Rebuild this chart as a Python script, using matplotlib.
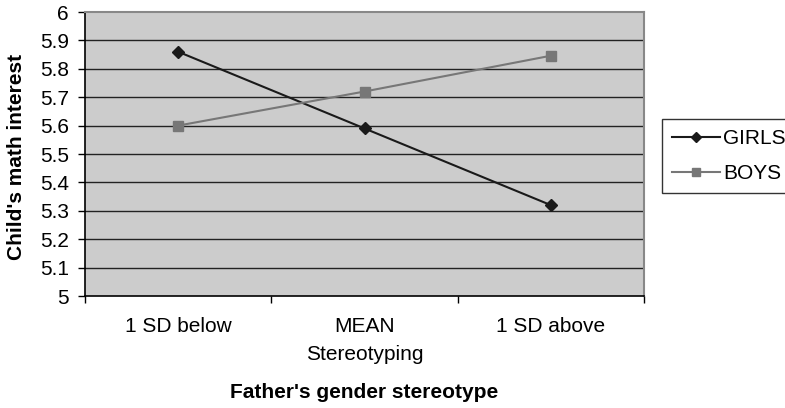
import matplotlib.pyplot as plt
from matplotlib.ticker import FixedLocator, FuncFormatter

plt.rcParams['font.family'] = ['Liberation Sans', 'DejaVu Sans']

# data
categories = ["1 SD below", "MEAN", "1 SD above"]
girls = [5.86, 5.59, 5.32]
boys = [5.60, 5.72, 5.846]
y_ticks = [5.0, 5.1, 5.2, 5.3, 5.4, 5.5, 5.6, 5.7, 5.8, 5.9, 6.0]

fig = plt.figure(figsize=(7.85, 4.08), dpi=100)
ax = fig.add_axes([85/785, 1 - 296/408, 559/785, 284/408])
ax.set_facecolor("#cccccc")

x = list(range(len(categories)))
ax.plot(x, girls, color="#1a1a1a", lw=1.5, marker="D", ms=6.5, label="GIRLS", zorder=3)
ax.plot(x, boys, color="#777777", lw=1.5, marker="s", ms=6.5, label="BOYS", zorder=3)

ax.set_xlim(-0.5, len(categories) - 0.5)
ax.set_ylim(5, 6)

# y axis
ax.set_yticks(y_ticks)
ax.yaxis.set_major_formatter(FuncFormatter(lambda v, p: f"{v:g}"))
ax.tick_params(axis="y", direction="out", length=5, width=1, pad=6.5, labelsize=15, colors="black")
for yv in y_ticks[1:-1]:
    ax.axhline(yv, color="#222222", lw=1, zorder=1)

# x axis: tick marks between categories, labels at the categories
ax.xaxis.set_major_locator(FixedLocator([i - 0.5 for i in range(len(categories) + 1)]))
ax.xaxis.set_major_formatter(FuncFormatter(lambda v, p: ""))
ax.xaxis.set_minor_locator(FixedLocator(x))
ax.set_xticklabels(categories, minor=True)
ax.tick_params(axis="x", which="major", direction="out", length=5, width=1)
ax.tick_params(axis="x", which="minor", length=0, pad=15, labelsize=15)

for side in ["left", "bottom"]:
    ax.spines[side].set_color("black")
    ax.spines[side].set_linewidth(1.2)
for side in ["top", "right"]:
    ax.spines[side].set_color("#888888")
    ax.spines[side].set_linewidth(1.5)

fig.text(16.5/785, 1 - 157/408, "Child's math interest", rotation=90, ha="center", va="center",
         fontsize=15, fontweight="bold")
fig.text(364.5/785, 1 - 355/408, "Stereotyping", ha="center", va="center", fontsize=15)
fig.text(364.5/785, 1 - 393/408, "Father's gender stereotype", ha="center", va="center",
         fontsize=15, fontweight="bold")

leg = fig.legend(loc="upper left", bbox_to_anchor=(662/785, 1 - 119/408), fontsize=15,
                 frameon=True, fancybox=False, handlelength=2.3, handletextpad=0.15,
                 borderpad=0.5, labelspacing=0.75, borderaxespad=0, markerscale=0.85)
leg.get_frame().set_edgecolor("black")
leg.get_frame().set_linewidth(1)

fig.savefig("out.png", dpi=100)
